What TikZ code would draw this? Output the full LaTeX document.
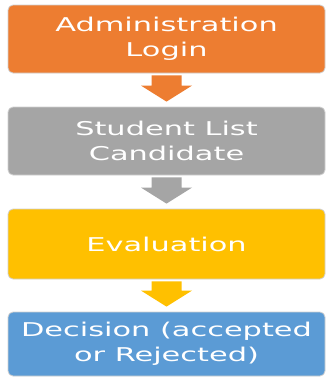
\documentclass[tikz,border=0pt]{standalone}
\usepackage{fontspec}
\newfontfamily\boxfont[FakeStretch=1.6]{DejaVu Sans}
\usetikzlibrary{calc}
\definecolor{cOrange}{HTML}{ED7D31}
\definecolor{cGrey}{HTML}{A5A5A5}
\definecolor{cGold}{HTML}{FFC000}
\definecolor{cBlue}{HTML}{5B9BD5}
\tikzset{
  stepbox/.style={rectangle, rounded corners=5pt, draw=black!18, line width=0.8pt,
    minimum width=317pt, inner sep=0pt, align=center, text=white,
    font=\boxfont\fontsize{19}{25}\selectfont},
  blockarr/.style={draw=none}
}
\newcommand{\blockarrow}[3]{%
  \fill[#3] ($(#1.south)+(-15,2)$) -- ($(#1.south)+(15,2)$)
    -- ($(#2.north)+(15,-21)$) -- ($(#2.north)+(25.5,-21)$)
    -- ($(#2.north)+(0,-5)$) -- ($(#2.north)+(-25.5,-21)$)
    -- ($(#2.north)+(-15,-21)$) -- cycle;}
\begin{document}
\begin{tikzpicture}[x=1pt,y=-1pt]
\useasboundingbox[fill=white] (0,0) rectangle (326,378);
\node[stepbox, fill=cOrange, minimum height=68pt] (n1) at (166.5,39) {Administration\\Login};
\node[stepbox, fill=cGrey, minimum height=68pt] (n2) at (166.5,141) {Student List\\Candidate};
\node[stepbox, fill=cGold, minimum height=70pt] (n3) at (166.5,244) {Evaluation};
\node[stepbox, fill=cBlue, minimum height=64pt] (n4) at (166.5,344) {Decision (accepted\\or Rejected)};
\blockarrow{n1}{n2}{cOrange}
\blockarrow{n2}{n3}{cGrey}
\blockarrow{n3}{n4}{cGold}
\end{tikzpicture}
\end{document}
